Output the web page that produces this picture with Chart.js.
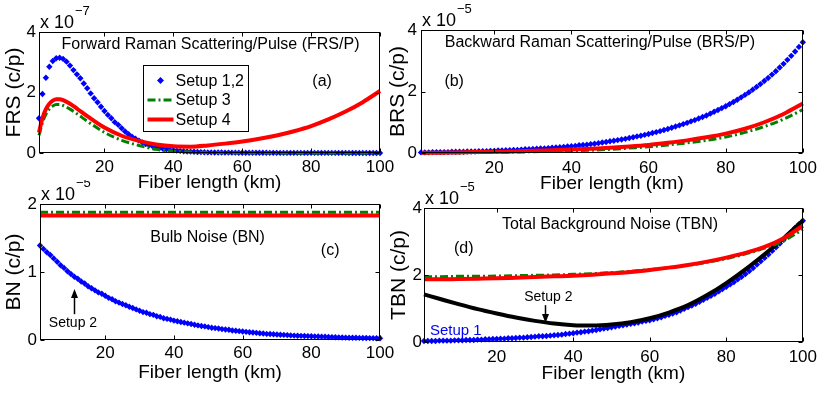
<!DOCTYPE html>
<html>
<head>
<meta charset="utf-8">
<script src="https://cdn.jsdelivr.net/npm/chart.js@4.4.0/dist/chart.umd.min.js"></script>
<style>
  body { margin: 0; background: #fff; }
  #wrap { position: relative; width: 822px; height: 394px; overflow: hidden; background: #fff; }
  canvas { position: absolute; }
</style>
</head>
<body>
<div id="wrap">
  <canvas id="cA" width="411" height="197" style="left:0px;top:0px"></canvas>
  <canvas id="cB" width="441" height="197" style="left:381px;top:0px"></canvas>
  <canvas id="cC" width="411" height="214" style="left:0px;top:180px"></canvas>
  <canvas id="cD" width="441" height="214" style="left:381px;top:180px"></canvas>
</div>
<script>
// x sampling (km)
const xTicks = [20, 40, 60, 80, 100];
const kmA = [1, 2, 3, 4, 5, 6, 7, 8, 10, 12, 15, 20, 25, 30, 35, 40, 45, 50, 55, 60, 65, 70, 75, 80, 85, 90, 95, 100];
const kmL = [1, 5, 10, 15, 20, 25, 30, 35, 40, 45, 50, 55, 60, 65, 70, 75, 80, 85, 90, 95, 100];
const kmC = [1, 100];
const kmP = Array.from({ length: 100 }, (_, i) => i + 1);

// (a) FRS, x 1e-7
const frsS12 = [1.15, 1.95, 2.49, 2.85, 3.04, 3.13, 3.15, 3.11, 3.02, 2.89,
  2.74, 2.60, 2.47, 2.30, 2.14, 1.97, 1.81, 1.68, 1.53, 1.39,
  1.26, 1.15, 1.02, 0.93, 0.82, 0.71, 0.62, 0.54, 0.47, 0.41,
  0.35, 0.30, 0.26, 0.22, 0.19, 0.16, 0.14, 0.12, 0.10, 0.09,
  0.08, 0.07, 0.06, 0.05, 0.045, 0.04, 0.035, 0.03, 0.025, 0.02,
  0.02, 0.018, 0.016, 0.015, 0.014, 0.013, 0.012, 0.011, 0.01, 0.01,
  0.009, 0.008, 0.008, 0.007, 0.007, 0.006, 0.006, 0.005, 0.005, 0.005,
  0.004, 0.004, 0.004, 0.004, 0.004, 0.004, 0.004, 0.004, 0.004, 0.004,
  0.003, 0.003, 0.003, 0.003, 0.003, 0.003, 0.003, 0.003, 0.003, 0.003,
  0.002, 0.002, 0.002, 0.002, 0.002, 0.002, 0.002, 0.002, 0.002, 0.002];
const frsS3 = [0.58, 1.00, 1.28, 1.45, 1.55, 1.60, 1.60, 1.57, 1.45, 1.30, 1.05, 0.68, 0.42, 0.25,
  0.12, 0.06, 0.03, 0.02, 0.01, 0.01, 0.005, 0.005, 0, 0, 0, 0, 0, 0];
const frsS4 = [0.68, 1.15, 1.45, 1.63, 1.73, 1.78, 1.78, 1.75, 1.63, 1.47, 1.22, 0.84, 0.57, 0.40,
  0.28, 0.22, 0.21, 0.25, 0.31, 0.38, 0.47, 0.58, 0.72, 0.89, 1.11, 1.37, 1.68, 2.05];

// (b) BRS, x 1e-5
const brsS12 = [0.02, 0.02, 0.02, 0.03, 0.03, 0.03, 0.03, 0.03, 0.04, 0.04,
  0.04, 0.04, 0.05, 0.05, 0.05, 0.06, 0.06, 0.06, 0.07, 0.07,
  0.08, 0.08, 0.09, 0.09, 0.10, 0.10, 0.11, 0.12, 0.12, 0.13,
  0.14, 0.15, 0.15, 0.16, 0.17, 0.18, 0.19, 0.20, 0.21, 0.22,
  0.23, 0.25, 0.26, 0.27, 0.29, 0.30, 0.32, 0.34, 0.36, 0.38,
  0.40, 0.42, 0.44, 0.46, 0.49, 0.51, 0.54, 0.56, 0.59, 0.62,
  0.65, 0.68, 0.71, 0.75, 0.78, 0.82, 0.86, 0.90, 0.94, 0.98,
  1.03, 1.07, 1.12, 1.17, 1.22, 1.28, 1.34, 1.40, 1.46, 1.52,
  1.59, 1.66, 1.73, 1.81, 1.89, 1.97, 2.06, 2.15, 2.24, 2.34,
  2.44, 2.55, 2.66, 2.78, 2.90, 3.03, 3.16, 3.30, 3.45, 3.60];
const brsS3 = [0, 0.005, 0.01, 0.015, 0.02, 0.03, 0.04, 0.055, 0.07, 0.09, 0.12,
  0.16, 0.20, 0.26, 0.33, 0.41, 0.52, 0.67, 0.86, 1.10, 1.41];
const brsS4 = [0.01, 0.01, 0.02, 0.03, 0.04, 0.05, 0.07, 0.09, 0.11, 0.14, 0.17,
  0.21, 0.26, 0.33, 0.41, 0.51, 0.63, 0.79, 1.00, 1.27, 1.61];

// (c) BN, x 1e-5
const bnS2 = [1.39, 1.34, 1.29, 1.25, 1.20, 1.15, 1.10, 1.06, 1.01, 0.97,
  0.93, 0.90, 0.86, 0.83, 0.79, 0.76, 0.73, 0.70, 0.68, 0.65,
  0.62, 0.60, 0.57, 0.55, 0.53, 0.51, 0.49, 0.47, 0.45, 0.43,
  0.41, 0.40, 0.38, 0.37, 0.35, 0.34, 0.32, 0.31, 0.30, 0.285,
  0.275, 0.265, 0.255, 0.245, 0.235, 0.225, 0.215, 0.205, 0.20, 0.19,
  0.18, 0.175, 0.17, 0.16, 0.155, 0.15, 0.14, 0.135, 0.13, 0.125,
  0.12, 0.115, 0.11, 0.105, 0.10, 0.095, 0.09, 0.088, 0.085, 0.08,
  0.078, 0.075, 0.072, 0.068, 0.065, 0.063, 0.061, 0.059, 0.057, 0.055,
  0.053, 0.051, 0.049, 0.047, 0.045, 0.043, 0.041, 0.039, 0.037, 0.035,
  0.034, 0.033, 0.032, 0.031, 0.030, 0.029, 0.028, 0.027, 0.026, 0.025];
const bnS3 = [1.88, 1.88];
const bnS4 = [1.83, 1.83];

// (d) TBN, x 1e-5
const tbnS1 = [0.03, 0.03, 0.03, 0.03, 0.04, 0.04, 0.04, 0.04, 0.05, 0.05,
  0.05, 0.06, 0.06, 0.06, 0.07, 0.07, 0.08, 0.08, 0.09, 0.09,
  0.10, 0.10, 0.11, 0.11, 0.12, 0.13, 0.13, 0.14, 0.15, 0.16,
  0.17, 0.17, 0.18, 0.19, 0.20, 0.21, 0.22, 0.24, 0.25, 0.26,
  0.28, 0.29, 0.31, 0.32, 0.34, 0.36, 0.38, 0.40, 0.42, 0.44,
  0.46, 0.48, 0.50, 0.52, 0.54, 0.56, 0.58, 0.61, 0.63, 0.65,
  0.68, 0.71, 0.74, 0.78, 0.81, 0.85, 0.89, 0.94, 0.99, 1.04,
  1.09, 1.14, 1.20, 1.26, 1.32, 1.38, 1.44, 1.51, 1.58, 1.65,
  1.72, 1.79, 1.87, 1.95, 2.03, 2.12, 2.21, 2.31, 2.41, 2.51,
  2.61, 2.72, 2.83, 2.94, 3.05, 3.17, 3.29, 3.41, 3.52, 3.62];
const tbnS2 = [1.42, 1.29, 1.13, 0.98, 0.85, 0.73, 0.63, 0.55, 0.50, 0.49, 0.52,
  0.59, 0.71, 0.88, 1.10, 1.40, 1.76, 2.17, 2.62, 3.10, 3.62];
const tbnS3 = [1.95, 1.95, 1.96, 1.96, 1.97, 1.98, 1.99, 2.00, 2.02, 2.04, 2.07,
  2.11, 2.16, 2.22, 2.29, 2.38, 2.49, 2.63, 2.80, 3.02, 3.36];
const tbnS4 = [1.87, 1.87, 1.88, 1.89, 1.90, 1.92, 1.94, 1.96, 1.98, 2.01, 2.05,
  2.09, 2.15, 2.22, 2.30, 2.40, 2.52, 2.66, 2.84, 3.10, 3.47];

const yTicks4 = [0, 2, 4];
const yTicks2 = [0, 1, 2];

const FF = '"Liberation Sans", Arial, Helvetica, sans-serif';
Chart.defaults.font.family = FF;
Chart.defaults.color = '#000';

const pts = (xs, ys) => ys.map((v, i) => ({ x: xs[i], y: v }));

function blue(label, xs, ys) {
  return { label, data: pts(xs, ys), showLine: false, pointStyle: 'rectRot', pointRadius: 3.2,
    pointBackgroundColor: '#0000ff', pointBorderWidth: 0, borderColor: '#0000ff', clip: false, order: 3 };
}
function line(label, xs, ys, color, width, dash, order) {
  return { label, data: pts(xs, ys), showLine: true, borderColor: color, backgroundColor: color,
    borderWidth: width, borderDash: dash || [], pointRadius: 0, cubicInterpolationMode: 'monotone',
    fill: false, clip: false, order };
}
const green = (l, xs, ys) => line(l, xs, ys, '#008000', 3, [8, 3, 2, 3], 1);
const red = (l, xs, ys) => line(l, xs, ys, '#ff0000', 4, null, 0);

// draws box, inner ticks, exponent, notes, arrows and legend
const matlabAxes = {
  id: 'matlabAxes',
  afterDraw(chart, args, o) {
    const ctx = chart.ctx, a = chart.chartArea, xs = chart.scales.x, ys = chart.scales.y;
    ctx.save();
    ctx.strokeStyle = '#000';
    ctx.lineWidth = 1;
    const L = Math.round(a.left) + 0.5, R = Math.round(a.right) - 0.5;
    const T = Math.round(a.top) + 0.5, B = Math.round(a.bottom) - 0.5;
    ctx.strokeRect(L, T, R - L, B - T);
    ctx.beginPath();
    xTicks.forEach(v => {
      const p = Math.round(xs.getPixelForValue(v)) + 0.5;
      ctx.moveTo(p, B); ctx.lineTo(p, B - 4);
      ctx.moveTo(p, T); ctx.lineTo(p, T + 4);
    });
    o.yTicks.forEach(v => {
      const p = Math.round(ys.getPixelForValue(v)) + 0.5;
      ctx.moveTo(L, p); ctx.lineTo(L + 4, p);
      ctx.moveTo(R, p); ctx.lineTo(R - 4, p);
    });
    ctx.stroke();

    ctx.fillStyle = '#000';
    ctx.textAlign = 'left';
    ctx.textBaseline = 'alphabetic';
    ctx.font = '18px ' + FF;
    ctx.fillText('x 10', a.left + 1, a.top - 4);
    const w = ctx.measureText('x 10').width;
    ctx.font = '13px ' + FF;
    ctx.fillText('\u2212' + o.exp, a.left + 2 + w, a.top - 17);

    ctx.textAlign = 'center';
    ctx.textBaseline = 'middle';
    (o.notes || []).forEach(n => {
      ctx.font = (n.size || 16) + 'px ' + FF;
      ctx.fillStyle = n.color || '#000';
      ctx.fillText(n.text, xs.getPixelForValue(n.x), ys.getPixelForValue(n.y));
    });

    (o.arrows || []).forEach(ar => {
      const x = Math.round(xs.getPixelForValue(ar.x)) + 0.5;
      const y0 = ys.getPixelForValue(ar.y0), y1 = ys.getPixelForValue(ar.y1);
      const dir = y1 > y0 ? 1 : -1;
      ctx.strokeStyle = '#000';
      ctx.fillStyle = '#000';
      ctx.lineWidth = 1.5;
      ctx.beginPath(); ctx.moveTo(x, y0); ctx.lineTo(x, y1 - dir * 6); ctx.stroke();
      ctx.beginPath();
      ctx.moveTo(x, y1); ctx.lineTo(x - 3.5, y1 - dir * 9); ctx.lineTo(x + 3.5, y1 - dir * 9);
      ctx.closePath(); ctx.fill();
    });

    if (o.legend) {
      const lx = Math.round(xs.getPixelForValue(o.legend.x)) + 0.5;
      const ly = Math.round(ys.getPixelForValue(o.legend.y)) + 0.5;
      ctx.fillStyle = '#fff';
      ctx.fillRect(lx, ly, 105, 66);
      ctx.strokeStyle = '#000';
      ctx.lineWidth = 1;
      ctx.strokeRect(lx, ly, 105, 66);
      const sets = o.legend.order.map(i => chart.data.datasets[i]);
      sets.forEach((ds, i) => {
        const cy = ly + 15 + i * 19.5;
        if (ds.showLine) {
          ctx.strokeStyle = ds.borderColor;
          ctx.lineWidth = ds.borderWidth;
          ctx.setLineDash(ds.borderDash);
          ctx.beginPath(); ctx.moveTo(lx + 4, cy); ctx.lineTo(lx + 30, cy); ctx.stroke();
          ctx.setLineDash([]);
        } else {
          ctx.fillStyle = ds.pointBackgroundColor;
          ctx.beginPath();
          ctx.moveTo(lx + 17, cy - 3.5); ctx.lineTo(lx + 20.5, cy); ctx.lineTo(lx + 17, cy + 3.5); ctx.lineTo(lx + 13.5, cy);
          ctx.closePath(); ctx.fill();
        }
        ctx.fillStyle = '#000';
        ctx.font = '16px ' + FF;
        ctx.textAlign = 'left';
        ctx.fillText(ds.label, lx + 32, cy + 1);
      });
    }
    ctx.restore();
  }
};
Chart.register(matlabAxes);

function makeChart(id, p) {
  return new Chart(document.getElementById(id), {
    type: 'scatter',
    data: { datasets: p.datasets },
    options: {
      responsive: false,
      animation: false,
      devicePixelRatio: 1,
      events: [],
      layout: { padding: p.pad },
      plugins: {
        legend: { display: false },
        tooltip: { enabled: false },
        matlabAxes: { yTicks: p.yTicks, exp: p.exp, notes: p.notes, arrows: p.arrows, legend: p.legend }
      },
      scales: {
        x: {
          type: 'linear', min: 1, max: 100,
          afterBuildTicks: s => { s.ticks = xTicks.map(v => ({ value: v })); },
          afterFit: s => { s.height = p.xH; },
          grid: { display: false, drawTicks: false },
          border: { display: false },
          ticks: { font: { size: 17 }, color: '#000', padding: p.xTickPad, maxRotation: 0, autoSkip: false },
          title: { display: true, text: 'Fiber length (km)', font: { size: 19 }, color: '#000',
            padding: { top: 0, bottom: p.xTitlePad } }
        },
        y: {
          type: 'linear', min: 0, max: p.yMax,
          afterBuildTicks: s => { s.ticks = p.yTicks.map(v => ({ value: v })); },
          afterFit: s => { s.width = p.yW; },
          grid: { display: false, drawTicks: false },
          border: { display: false },
          ticks: { font: { size: 17 }, color: '#000', padding: p.yTickPad },
          title: { display: true, text: p.yTitle, font: { size: 21 }, color: '#000',
            padding: { top: p.yTitlePad, bottom: 0 } }
        }
      }
    }
  });
}

makeChart('cA', {
  datasets: [blue('Setup 1,2', kmP, frsS12), green('Setup 3', kmA, frsS3), red('Setup 4', kmA, frsS4)],
  yMax: 4, yTicks: yTicks4, yTitle: 'FRS (c/p)', exp: '7',
  pad: { left: 0, top: 32, right: 31, bottom: 0 }, xH: 44, yW: 39,
  xTickPad: 4, xTitlePad: 3, yTickPad: 3, yTitlePad: 2,
  notes: [
    { text: 'Forward Raman Scattering/Pulse (FRS/P)', x: 50.8, y: 3.6 },
    { text: '(a)', x: 83.2, y: 2.35 }
  ],
  legend: { x: 31.2, y: 2.91, order: [0, 1, 2] }
});

makeChart('cB', {
  datasets: [blue('Setup 1,2', kmP, brsS12), green('Setup 3', kmL, brsS3), red('Setup 4', kmL, brsS4)],
  yMax: 4, yTicks: yTicks4, yTitle: 'BRS (c/p)', exp: '5',
  pad: { left: 0, top: 30, right: 17, bottom: 0 }, xH: 44, yW: 40,
  xTickPad: 5, xTitlePad: 2, yTickPad: 4, yTitlePad: 5,
  notes: [
    { text: 'Backward Raman Scattering/Pulse (BRS/P)', x: 47.4, y: 3.58 },
    { text: '(b)', x: 9.6, y: 2.31 }
  ]
});

makeChart('cC', {
  datasets: [blue('Setup 2', kmP, bnS2), green('Setup 3', kmC, bnS3), red('Setup 4', kmC, bnS4)],
  yMax: 2, yTicks: yTicks2, yTitle: 'BN (c/p)', exp: '5',
  pad: { left: 0, top: 24, right: 31, bottom: 0 }, xH: 54, yW: 40,
  xTickPad: 3, xTitlePad: 10, yTickPad: 3, yTitlePad: 2,
  notes: [
    { text: 'Bulb Noise (BN)', x: 49.8, y: 1.51 },
    { text: '(c)', x: 85.5, y: 1.32 },
    { text: 'Setup 2', x: 10.6, y: 0.25, size: 14 }
  ],
  arrows: [{ x: 10.9, y0: 0.38, y1: 0.75 }]
});

const blackLine = line('Setup 2', kmL, tbnS2, '#000000', 4, null, 2);
makeChart('cD', {
  datasets: [blue('Setup 1', kmP, tbnS1), blackLine, green('Setup 3', kmL, tbnS3), red('Setup 4', kmL, tbnS4)],
  yMax: 4, yTicks: yTicks4, yTitle: 'TBN (c/p)', exp: '5',
  pad: { left: 0, top: 28, right: 17, bottom: 0 }, xH: 52, yW: 43,
  xTickPad: 5, xTitlePad: 9, yTickPad: 2, yTitlePad: 6,
  notes: [
    { text: 'Total Background Noise (TBN)', x: 49.6, y: 3.49 },
    { text: '(d)', x: 11.4, y: 2.78 },
    { text: 'Setup 2', x: 33.5, y: 1.34, size: 14 },
    { text: 'Setup 1', x: 9.3, y: 0.33, size: 15, color: '#0000ff' }
  ],
  arrows: [{ x: 32.7, y0: 1.10, y1: 0.57 }]
});
</script>
</body>
</html>
